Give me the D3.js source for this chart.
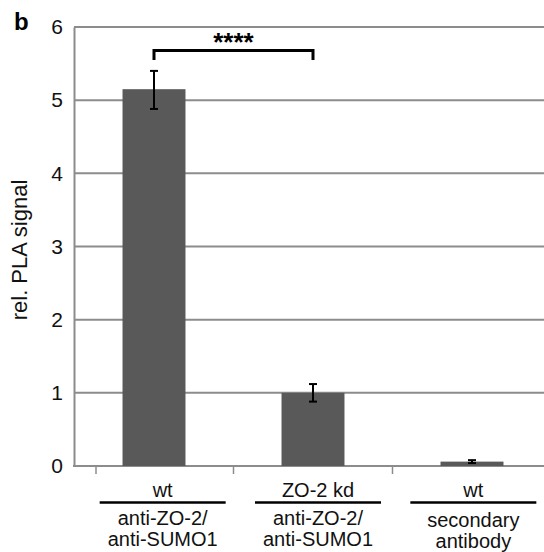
<!DOCTYPE html>
<html>
<head>
<meta charset="utf-8">
<script src="https://cdn.jsdelivr.net/npm/d3@7"></script>
<style>
  body { margin: 0; background: #fff; }
  svg { display: block; font-family: "Liberation Sans", Arial, sans-serif; }
</style>
</head>
<body>
<div id="chart"></div>
<script>
// data
const groups = ['wt', 'ZO-2 kd', 'wt'];
const labelLines = [
  ['anti-ZO-2/', 'anti-SUMO1'],
  ['anti-ZO-2/', 'anti-SUMO1'],
  ['secondary', 'antibody']
];
const values = [5.15, 1.0, 0.06];
const errLow = [4.88, 0.88, 0.04];
const errHigh = [5.40, 1.12, 0.08];
const yTicks = [0, 1, 2, 3, 4, 5, 6];
const sig = { from: 0, to: 1, y: 5.68, drop: 0.13, text: '****' };

const width = 544, height = 552;
const svg = d3.select('#chart').append('svg')
  .attr('width', width).attr('height', height);

const y = d3.scaleLinear().domain([0, 6]).range([466, 27]);
const x = d3.scaleBand().domain(d3.range(groups.length))
  .range([74.5, 551.5]).paddingInner(0.604).paddingOuter(0.302);
// label row is a bit wider than the bar row
const xl = d3.scaleBand().domain(d3.range(groups.length)).range([85, 551]);

const grid = '#8c8c8c';

// gridlines
svg.selectAll('.grid').data(yTicks.filter(d => d > 0)).enter()
  .append('line')
  .attr('x1', 74).attr('x2', width)
  .attr('y1', d => y(d)).attr('y2', d => y(d))
  .style('stroke', grid).style('stroke-width', 2);

// y axis
const yAxis = svg.append('g').attr('transform', 'translate(74,0)')
  .call(d3.axisLeft(y).tickValues(yTicks).tickFormat(d3.format('d'))
    .tickSize(0).tickPadding(11));
yAxis.select('.domain').style('stroke', grid).style('stroke-width', 2);
yAxis.selectAll('text').style('font-size', '21px').style('fill', '#111')
  .style('font-family', '"Liberation Sans", Arial, sans-serif');

// x axis line + ticks at band boundaries
svg.append('line')
  .attr('x1', 73).attr('x2', width).attr('y1', y(0)).attr('y2', y(0))
  .style('stroke', grid).style('stroke-width', 2);
svg.selectAll('.xtick').data(d3.range(1, groups.length)).enter()
  .append('line')
  .attr('x1', d => x(d) - x.step() * x.paddingOuter())
  .attr('x2', d => x(d) - x.step() * x.paddingOuter())
  .attr('y1', y(0)).attr('y2', y(0) + 8)
  .style('stroke', grid).style('stroke-width', 1.5);
svg.append('line')
  .attr('x1', 96).attr('x2', 96).attr('y1', y(0)).attr('y2', y(0) + 8)
  .style('stroke', grid).style('stroke-width', 1.5);

// bars
svg.selectAll('.bar').data(values).enter()
  .append('rect')
  .attr('x', (d, i) => x(i))
  .attr('width', x.bandwidth())
  .attr('y', d => y(d))
  .attr('height', d => y(0) - y(d))
  .style('fill', '#595959');

// error bars
const cx = i => x(i) + x.bandwidth() / 2;
const eb = svg.selectAll('.err').data(values).enter().append('g');
eb.append('line')
  .attr('x1', (d, i) => cx(i)).attr('x2', (d, i) => cx(i))
  .attr('y1', (d, i) => y(errLow[i])).attr('y2', (d, i) => y(errHigh[i]))
  .style('stroke', '#000').style('stroke-width', 2);
[errLow, errHigh].forEach(arr => {
  eb.append('line')
    .attr('x1', (d, i) => cx(i) - 4).attr('x2', (d, i) => cx(i) + 4)
    .attr('y1', (d, i) => y(arr[i])).attr('y2', (d, i) => y(arr[i]))
    .style('stroke', '#000').style('stroke-width', 2);
});

// significance bracket
svg.append('path')
  .attr('d', `M${cx(sig.from)},${y(sig.y - sig.drop)} V${y(sig.y)} H${cx(sig.to)} V${y(sig.y - sig.drop)}`)
  .style('fill', 'none').style('stroke', '#000').style('stroke-width', 3);
svg.append('text')
  .attr('x', (cx(sig.from) + cx(sig.to)) / 2)
  .attr('y', y(sig.y) + 1)
  .attr('text-anchor', 'middle')
  .style('font-size', '26px').style('font-weight', 'bold')
  .text(sig.text);

// category labels
const lab = svg.selectAll('.lab').data(groups).enter().append('g')
  .attr('transform', (d, i) => `translate(${xl(i) + xl.bandwidth() / 2},0)`);
lab.append('text')
  .attr('y', 497).attr('text-anchor', 'middle')
  .style('font-size', '20px').style('fill', '#111')
  .text(d => d);
lab.append('line')
  .attr('x1', -63).attr('x2', 63).attr('y1', 502.5).attr('y2', 502.5)
  .style('stroke', '#000').style('stroke-width', 2.5);
lab.each(function (d, i) {
  const g = d3.select(this);
  labelLines[i].forEach((t, k) => {
    g.append('text')
      .attr('y', i === 2 ? 527 + k * 21 : 525 + k * 20.5)
      .attr('text-anchor', 'middle')
      .style('font-size', '20px').style('fill', '#111')
      .text(t);
  });
});

// y label
svg.append('text')
  .attr('transform', 'translate(27,250) rotate(-90)')
  .attr('text-anchor', 'middle')
  .style('font-size', '22px').style('fill', '#111')
  .text('rel. PLA signal');

// panel letter
svg.append('text')
  .attr('x', 14).attr('y', 30)
  .style('font-size', '24px').style('font-weight', 'bold')
  .text('b');
</script>
</body>
</html>
